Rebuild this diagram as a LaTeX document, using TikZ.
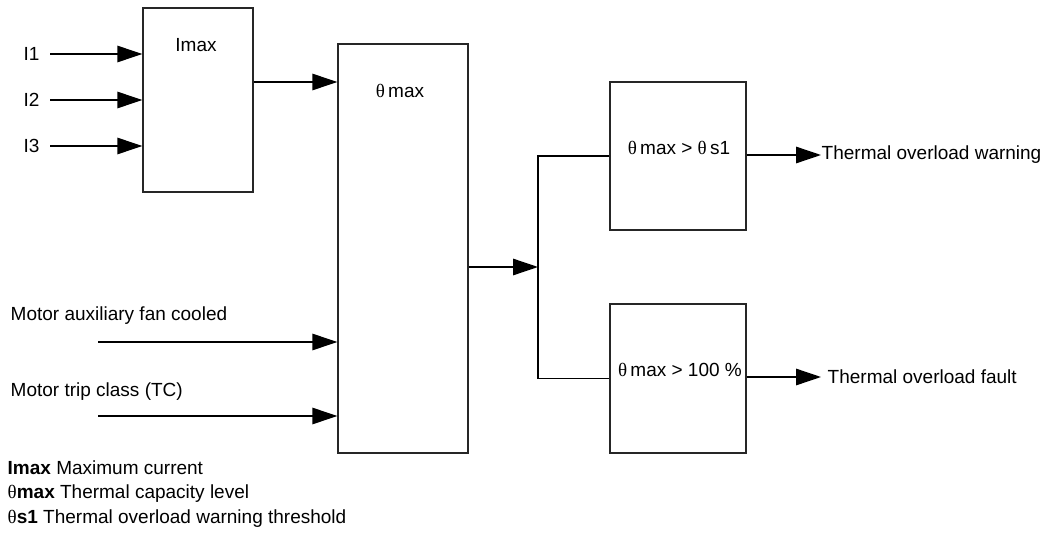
\documentclass[tikz,border=0pt]{standalone}
\usepackage{fontspec}
\setmainfont{Liberation Sans}
\newfontfamily\symf{Liberation Serif}
\usetikzlibrary{arrows.meta}
\newcommand{\thet}{{\symf θ}}
\begin{document}
\begin{tikzpicture}[x=1pt,y=-1pt,line width=1.4pt,
  every node/.style={font=\fontsize{19}{24.5}\selectfont},
  blk/.style={draw=black!85,inner sep=0},
  arr/.style={-{Triangle[length=25pt,width=16.5pt]}}]
\useasboundingbox (0,0) rectangle (1053,535);
% blocks
\node[blk,minimum width=110,minimum height=184] (imax) at (198,100) {};
\node[blk,minimum width=130,minimum height=409] (theta) at (403,248.5) {};
\node[blk,minimum width=136,minimum height=148] (warn) at (678,156) {};
\node[blk,minimum width=136,minimum height=149] (fault) at (678,378.5) {};
\node at (196,45) {Imax};
\node at (400,91) {\thet\,max};
\node at (679,148) {\thet\,max > \thet\,s1};
\node at (680,370) {\thet\,max > 100 \%};
% current inputs
\foreach \n/\y in {1/54,2/100,3/146} {
  \node[anchor=west,inner xsep=0] (i\n) at (23,\y) {I\n};
  \draw[arr] ([xshift=10]i\n.east) -- (imax.west |- i\n);
}
\draw[arr] (imax.east |- 0,82) -- (theta.west |- 0,82);
% motor settings
\node[anchor=west,inner xsep=0] (fantxt) at (10,316) {Motor auxiliary fan cooled};
\coordinate (fan) at (98,342);
\draw[arr] (fan) -- (theta.west |- fan);
\node[anchor=west,inner xsep=0] (tctxt) at (10,392) {Motor trip class (TC)};
\coordinate (tc) at (98,416);
\draw[arr] (tc) -- (theta.west |- tc);
% branch to comparators
\coordinate (jn) at (538,267);
\draw[arr] (theta.east |- jn) -- (jn);
\draw (warn.west) -| (jn) |- (fault.west);
\node[anchor=west,inner sep=0] (warnout) at (821,155) {Thermal overload warning};
\draw[arr] (warn.east |- warnout) -- (warnout.west);
\node[anchor=west,inner sep=0] (faultout) at (827,377) {Thermal overload fault};
\draw[arr] (fault.east |- faultout) -- ([xshift=-6]faultout.west);
% legend
\node[anchor=west,align=left,inner sep=0] (legend) at (7,494)
  {\textbf{Imax} Maximum current\\
   \thet\textbf{max} Thermal capacity level\\
   \thet\textbf{s1} Thermal overload warning threshold};
\end{tikzpicture}
\end{document}
